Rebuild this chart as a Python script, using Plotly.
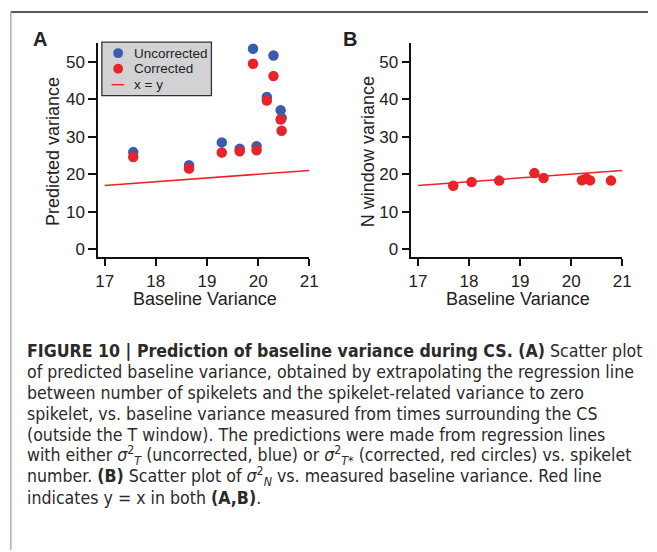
import plotly.graph_objects as go

# ---- data ----
a_x = [17.56, 18.65, 19.29, 19.64, 19.97, 19.90, 20.30, 20.17, 20.44, 20.46]
a_uncorrected = [25.9, 22.4, 28.5, 26.8, 27.5, 53.5, 51.7, 40.6, 37.1, 35.0]
a_corrected = [24.6, 21.5, 25.8, 26.1, 26.4, 49.5, 46.2, 39.7, 34.6, 31.6]

b_x = [17.69, 18.05, 18.59, 19.28, 19.46, 20.21, 20.30, 20.37, 20.78]
b_nwindow = [16.9, 17.9, 18.3, 20.3, 19.0, 18.4, 18.9, 18.35, 18.3]

line_x = [17, 21]
line_y = [17, 21]

x_ticks = [17, 18, 19, 20, 21]
y_ticks = [0, 10, 20, 30, 40, 50]

legend_labels = ["Uncorrected", "Corrected", "x = y"]

BLUE = "#3b5cad"
RED = "#e8232a"
W, H = 657, 552
FONT = "Liberation Sans, Arial, sans-serif"
CAPFONT = "DejaVu Sans Condensed, Liberation Sans Narrow, sans-serif"


def px(x):
    return x / W


def py(y):
    return 1 - y / H


fig = go.Figure()

fig.add_trace(go.Scatter(x=a_x, y=a_uncorrected, mode="markers", name=legend_labels[0],
                         marker=dict(color=BLUE, size=10.5), xaxis="x", yaxis="y"))
fig.add_trace(go.Scatter(x=a_x, y=a_corrected, mode="markers", name=legend_labels[1],
                         marker=dict(color=RED, size=10.5), xaxis="x", yaxis="y"))
fig.add_trace(go.Scatter(x=line_x, y=line_y, mode="lines", name=legend_labels[2],
                         line=dict(color=RED, width=1.5), xaxis="x", yaxis="y"))

fig.add_trace(go.Scatter(x=line_x, y=line_y, mode="lines",
                         line=dict(color=RED, width=1.5), xaxis="x2", yaxis="y2"))
fig.add_trace(go.Scatter(x=b_x, y=b_nwindow, mode="markers",
                         marker=dict(color=RED, size=10.5), xaxis="x2", yaxis="y2"))

axis_common = dict(showline=True, linecolor="#111", linewidth=1.6, ticks="outside",
                   tickwidth=1.6, tickcolor="#111", showgrid=False,
                   zeroline=False, tickfont=dict(family=FONT, size=17, color="#222"))

fig.update_layout(
    width=W, height=H,
    margin=dict(l=0, r=0, t=0, b=0),
    paper_bgcolor="white", plot_bgcolor="white",
    showlegend=False,
    xaxis=dict(domain=[px(97), px(312)], range=[16.875, 21.0], tickvals=x_ticks,
               anchor="y", ticklen=7, **axis_common),
    yaxis=dict(domain=[py(258.3), py(43.3)], range=[-2.2, 55.0], tickvals=y_ticks,
               anchor="x", ticklen=8, **axis_common),
    xaxis2=dict(domain=[px(416), px(630.7)], range=[16.87, 21.0], tickvals=x_ticks,
                anchor="y2", ticklen=7, **axis_common),
    yaxis2=dict(domain=[py(258.3), py(43.3)], range=[-2.2, 55.0], tickvals=y_ticks,
                anchor="x2", ticklen=8, **axis_common),
)

annotations = []


def ann(x, y, text, size, family=FONT, angle=0, xanchor="center", yanchor="middle", color="#222"):
    annotations.append(dict(x=px(x), y=py(y), xref="paper", yref="paper", text=text,
                            showarrow=False, textangle=angle, xanchor=xanchor,
                            yanchor=yanchor, font=dict(family=family, size=size, color=color)))


# panel letters
ann(38, 39, "<b>A</b>", 20)
ann(353, 39, "<b>B</b>", 20)

# axis titles
ann(205.8, 300, "Baseline Variance", 18)
ann(525, 300, "Baseline Variance", 18)
ann(51.5, 152, "Predicted variance", 18, angle=-90)
ann(372.5, 152, "N window variance", 18, angle=-90)

# ---- manual legend (panel A) ----
fig.add_shape(type="rect", xref="paper", yref="paper", x0=px(100.7), x1=px(212.3),
              y0=py(96), y1=py(42.3), fillcolor="#d2d2d4",
              line=dict(color="#333", width=1.3), layer="above")
row_y = [53.3, 69, 85]
for yy, col in zip(row_y[:2], [BLUE, RED]):
    fig.add_shape(type="circle", xref="paper", yref="paper",
                  x0=px(117.3 - 5), x1=px(117.3 + 5), y0=py(yy + 5), y1=py(yy - 5),
                  fillcolor=col, line=dict(width=0), layer="above")
fig.add_shape(type="line", xref="paper", yref="paper", x0=px(110.7), x1=px(123.3),
              y0=py(row_y[2]), y1=py(row_y[2]), line=dict(color=RED, width=1.5), layer="above")
for yy, lab in zip(row_y, legend_labels):
    ann(131, yy, lab, 13.5, xanchor="left")

# caption
sig = "<i>σ</i>"
caption = [
    "<b>FIGURE 10 | Prediction of baseline variance during CS. (A)</b> Scatter plot",
    "of predicted baseline variance, obtained by extrapolating the regression line",
    "between number of spikelets and the spikelet-related variance to zero",
    "spikelet, vs. baseline variance measured from times surrounding the CS",
    "(outside the T window). The predictions were made from regression lines",
    f"with either {sig}<sup>2</sup><sub><i>T</i></sub> (uncorrected, blue) or {sig}<sup>2</sup><sub><i>T*</i></sub> (corrected, red circles) vs. spikelet",
    f"number. <b>(B)</b> Scatter plot of {sig}<sup>2</sup><sub><i>N</i></sub> vs. measured baseline variance. Red line",
    "indicates y = x in both <b>(A,B)</b>.",
]
for i, line in enumerate(caption):
    ann(22, 352 + i * 21.1, line, 17.6, family=CAPFONT, xanchor="left", color="#2a2a2a")

fig.update_layout(annotations=annotations)

# frame lines
fig.add_shape(type="line", xref="paper", yref="paper", x0=px(8), x1=1, y0=py(12), y1=py(12),
              line=dict(color="#222", width=1.5))
fig.add_shape(type="line", xref="paper", yref="paper", x0=px(8), x1=px(8), y0=py(12), y1=0,
              line=dict(color="#888", width=1))

fig.write_html("out.html")
